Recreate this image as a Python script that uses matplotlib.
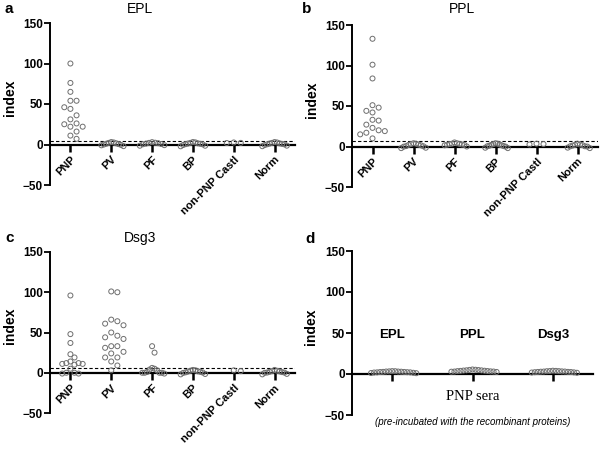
import numpy as np
import matplotlib
matplotlib.use("Agg")
import matplotlib.pyplot as plt

plt.rcParams['font.family'] = ['Liberation Sans', 'DejaVu Sans']

# ---------------- data ----------------
groups = ["PNP", "PV", "PF", "BP", "non-PNP Castl", "Norm"]

epl_pnp = [100, 76, 65, 54, 54, 46, 44, 36, 31, 26, 25, 22, 22, 16, 11, 7]
epl_pv = [0.5, 2.0, -1.0, 1.5, 3.0, -2.0, 1.0, 0.0, 2.5, -0.5]
epl_pf = [0.6, 2.2, -0.8, 1.6, 2.9, 0.3, 1.1, -1.5, 2.0]
epl_bp = [0.2, 2.0, -1.5, 1.5, 3.0, -2.2, 1.2, 0.4, 2.6, -0.6, 0.9]
epl_cas = [2.0, 2.5, 1.8]
epl_norm = [0.3, 2.0, -1.4, 1.4, 3.0, -2.1, 1.2, 0.2, 2.5, -0.6, 0.8]

ppl_pnp = [133, 101, 84, 51, 48, 44, 42, 33, 32, 27, 23, 20, 19, 17, 15, 10]
ppl_pv = [0.5, 3.0, -1.5, 2.5, 4.0, -0.2, 3.5, 0.3, 2.0, -2.0, 1.5]
ppl_pf = [2.5, 3.0, 2.0, 3.5, 4.0, 1.5, 5.0, 2.2, 0.0, 3.2]
ppl_bp = [0.5, 3.0, -1.5, 2.5, 4.0, -0.2, 3.5, 0.3, 2.0, -2.0, 1.5, 1.0]
ppl_cas = [3.0, 3.5, 2.5]
ppl_norm = [0.3, 2.5, -1.4, 2.0, 3.5, -0.1, 1.2, 0.2, 1.7, -2.0]

dsg_pnp = [96, 48, 37, 23, 19, 14, 12, 11, 10, 12, 11, 5, 0, -1, -1, 0]
dsg_pv = [100, 101, 66, 61, 59, 64, 50, 44, 46, 42, 33, 31, 33, 26, 24, 19, 19, 14, 9, 3]
dsg_pf = [33, 25, 4, 0, 3, 5, 0, 0, -1, 1, 6, 0]
dsg_bp = [0.5, 2.5, -1.5, 1.5, 3.5, -0.2, 3.0, 0.3, 1.8, -2.0, 1.2]
dsg_cas = [2.0, 3.0]
dsg_norm = [0.3, 2.5, -1.4, 2.0, 3.5, -0.1, 1.2, 0.2, 1.7, -2.0, 0.8]

cutoffs = [4, 6.5, 5.5]
titles = ["EPL", "PPL", "Dsg3"]

blocked_groups = ["EPL", "PPL", "Dsg3"]
blocked_epl = [2.0, 3.0, 1.5, 2.5, 3.5, 1.0, 2.8, 2.2, 3.2, 1.8, 2.6, 3.0, 1.2, 2.4, 3.4, 2.0]
blocked_ppl = [3.5, 4.5, 2.5, 4.0, 5.0, 3.0, 4.2, 3.8, 5.5, 2.8, 4.8, 3.2, 4.4, 3.6, 5.2, 3.0]
blocked_dsg = [2.5, 3.5, 2.0, 3.0, 4.0, 1.5, 3.2, 2.6, 3.8, 2.2, 3.0, 3.6, 1.8, 2.8, 3.4, 2.4]

panel_data = [
    [epl_pnp, epl_pv, epl_pf, epl_bp, epl_cas, epl_norm],
    [ppl_pnp, ppl_pv, ppl_pf, ppl_bp, ppl_cas, ppl_norm],
    [dsg_pnp, dsg_pv, dsg_pf, dsg_bp, dsg_cas, dsg_norm],
]
blocked_data = [blocked_epl, blocked_ppl, blocked_dsg]

# ---------------- helpers ----------------
W, H = 600, 450
fig = plt.figure(figsize=(6, 4.5), dpi=100)


def px_axes(l, r, t, b):
    return fig.add_axes([l / W, 1 - b / H, (r - l) / W, (b - t) / H])


def swarm(values, ax_w_px, ax_h_px, ncat, diam=7.0, step=7.0, limit=0.3):
    """Beeswarm; offsets compressed to +-limit (category units)."""
    ypx = ax_h_px / 200.0
    xpx = ax_w_px / ncat
    order = np.argsort(values)[::-1]
    placed = []
    offs = np.zeros(len(values))
    cands = [0.0]
    for j in range(1, 40):
        cands += [j * step, -j * step]
    for i in order:
        y = values[i] * ypx
        for c in cands:
            if all((px - c) ** 2 + (py - y) ** 2 >= diam ** 2 for px, py in placed):
                placed.append((c, y))
                offs[i] = c / xpx
                break
    m = np.max(np.abs(offs))
    if m > limit:
        offs = offs * limit / m
    return offs


def style_axes(ax, ncat):
    ax.set_ylim(-50, 150)
    ax.set_xlim(-0.5, ncat - 0.5)
    for s in ["top", "right"]:
        ax.spines[s].set_visible(False)
    ax.spines["bottom"].set_position(("data", 0))
    ax.spines["bottom"].set_linewidth(1.6)
    ax.spines["left"].set_linewidth(1.4)
    ax.set_yticks([-50, 0, 50, 100, 150])
    ax.tick_params(axis="y", direction="out", length=4, width=1.3, labelsize=8.5, pad=1)
    ax.tick_params(axis="x", direction="out", length=5, width=1.8, labelsize=8, pad=2)
    for lab in ax.get_yticklabels():
        lab.set_fontweight("bold")
    ax.set_ylabel("index", fontsize=10, fontweight="bold")
    ax.patch.set_alpha(0)


def draw_points(ax, data, w_px, h_px):
    n = len(data)
    for i, vals in enumerate(data):
        offs = swarm(vals, w_px, h_px, n)
        ax.scatter(i + offs, vals, s=13, facecolors="none", edgecolors="#6e6e6e",
                   linewidths=0.7, zorder=3, clip_on=False)


# ---------------- panels a, b, c ----------------
boxes = [(50, 295, 23, 185), (352, 598, 25, 187), (50, 295, 252, 413)]
title_pos = [(140, 9), (462, 9), (140, 238)]
letter_pos = [(9, 9), (307, 9), (10, 238)]
letters = ["a", "b", "c"]

for k in range(3):
    l, r, t, b = boxes[k]
    ax = px_axes(l, r, t, b)
    style_axes(ax, len(groups))
    draw_points(ax, panel_data[k], r - l, b - t)
    ax.axhline(cutoffs[k], color="black", lw=0.8, ls=(0, (3, 2)), zorder=2)
    ax.set_xticks(range(len(groups)))
    ax.set_xticklabels(groups, rotation=45, ha="right", rotation_mode="anchor",
                       fontweight="bold")
    ax.yaxis.set_label_coords(-0.135, 0.54)
    fig.text(title_pos[k][0] / W, 1 - title_pos[k][1] / H, titles[k],
             ha="center", va="center", fontsize=10)
    fig.text(letter_pos[k][0] / W, 1 - letter_pos[k][1] / H, letters[k],
             ha="center", va="center", fontsize=11, fontweight="bold")

# ---------------- panel d ----------------
l, r, t, b = 352, 593, 251, 415
axd = px_axes(l, r, t, b)
style_axes(axd, 3)
draw_points(axd, blocked_data, r - l, b - t)
axd.set_xticks(range(3))
axd.set_xticklabels([])
axd.yaxis.set_label_coords(-0.14, 0.54)
for i, g in enumerate(blocked_groups):
    axd.text(i, 48, g, ha="center", va="center", fontsize=9.5, fontweight="bold")
axd.text(1, -28, "PNP sera", ha="center", va="center", fontsize=10.5,
         family=["Liberation Serif", "DejaVu Serif"])
axd.text(1, -58, "(pre-incubated with the recombinant proteins)", ha="center",
         va="center", fontsize=7, style="italic", clip_on=False)
fig.text(310 / W, 1 - 239 / H, "d", ha="center", va="center", fontsize=11,
         fontweight="bold")

fig.savefig("out.png", dpi=100)
